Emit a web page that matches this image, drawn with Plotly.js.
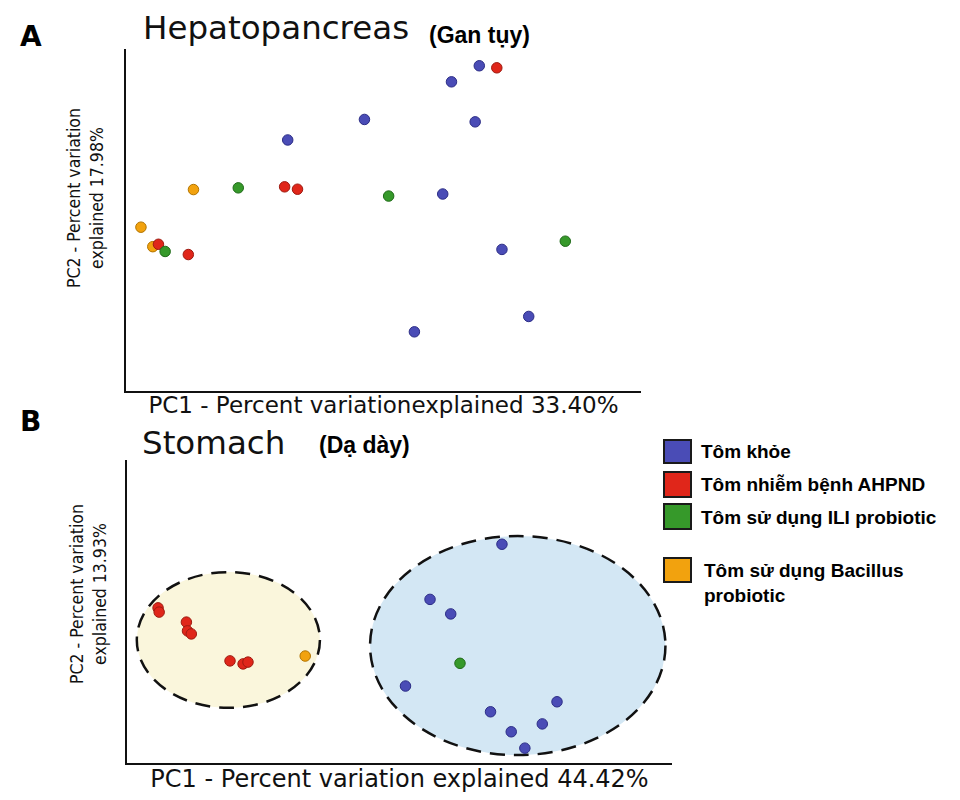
<!DOCTYPE html>
<html>
<head>
<meta charset="utf-8">
<script src="https://cdn.plot.ly/plotly-3.0.1.min.js"></script>
<style>html,body{margin:0;padding:0;background:#fff;}#chart{width:960px;height:800px;}</style>
</head>
<body>
<div id="chart"></div>
<script>
// ---- data (PC scores, arbitrary units 0-100) ----
const groupNames = ['Tôm khỏe', 'Tôm nhiễm bệnh AHPND', 'Tôm sử dụng ILI probiotic', 'Tôm sử dụng Bacillus probiotic'];
const legendLabels = ['Tôm khỏe', 'Tôm nhiễm bệnh AHPND', 'Tôm sử dụng ILI probiotic', 'Tôm sử dụng Bacillus<br>probiotic'];
const groupColors = ['#4a4cb6', '#e0261a', '#36992a', '#f2a20e'];
const groupLines = ['#2c2d86', '#9e1a10', '#1f6a18', '#b27400'];

// Panel A - Hepatopancreas
const hepHealthyX = [68.6, 63.2, 46.3, 67.8, 31.4, 61.5, 73.0, 56.0, 78.2];
const hepHealthyY = [95.1, 90.4, 79.4, 78.7, 73.4, 57.6, 41.4, 17.3, 21.8];
const hepAhpndX = [72.0, 30.8, 33.3, 6.3, 12.1];
const hepAhpndY = [94.5, 59.7, 59.0, 42.9, 39.9];
const hepIliX = [21.8, 51.0, 85.3, 7.6];
const hepIliY = [59.4, 57.0, 43.8, 40.8];
const hepBacX = [13.1, 2.9, 5.2];
const hepBacY = [58.9, 47.9, 42.2];

// Panel B - Stomach
const stoHealthyX = [68.8, 55.6, 59.4, 51.1, 66.7, 78.9, 76.2, 70.5, 73.0];
const stoHealthyY = [72.2, 54.0, 49.2, 25.4, 16.9, 20.2, 12.9, 10.3, 4.9];
const stoAhpndX = [5.7, 5.9, 10.9, 11.1, 11.8, 18.9, 21.3, 22.2];
const stoAhpndY = [51.2, 49.8, 46.5, 43.6, 42.6, 33.7, 32.7, 33.3];
const stoIliX = [61.1];
const stoIliY = [32.9];
const stoBacX = [32.7];
const stoBacY = [35.3];

// group envelopes in panel B (data units)
const clusterInfected = {x0: 1.8, x1: 35.4, y0: 18.2, y1: 63.0};
const clusterHealthy = {x0: 44.6, x1: 98.8, y0: 2.6, y1: 74.9};

const axisLabels = {
  aX: 'PC1 - Percent variationexplained 33.40%',
  aY: 'PC2 - Percent variation<br>explained 17.98%',
  bX: 'PC1 - Percent variation explained 44.42%',
  bY: 'PC2 - Percent variation<br>explained 13.93%'
};

// ---- build ----
const W = 960, H = 800;
const px = v => v / W;
const py = v => 1 - v / H;

function pts(x, y, gi, xa, ya) {
  return {
    type: 'scatter', mode: 'markers', x: x, y: y, xaxis: xa, yaxis: ya,
    name: groupNames[gi], showlegend: false, hoverinfo: 'x+y+name',
    marker: {size: 10.5, color: groupColors[gi], line: {color: groupLines[gi], width: 1}}
  };
}

const data = [
  pts(hepBacX, hepBacY, 3, 'x', 'y'),
  pts(hepAhpndX, hepAhpndY, 1, 'x', 'y'),
  pts(hepIliX, hepIliY, 2, 'x', 'y'),
  pts(hepHealthyX, hepHealthyY, 0, 'x', 'y'),
  pts(stoBacX, stoBacY, 3, 'x2', 'y2'),
  pts(stoAhpndX, stoAhpndY, 1, 'x2', 'y2'),
  pts(stoIliX, stoIliY, 2, 'x2', 'y2'),
  pts(stoHealthyX, stoHealthyY, 0, 'x2', 'y2')
];

const baseAxis = {
  range: [0, 100], showline: true, linecolor: '#111', linewidth: 2,
  showgrid: false, zeroline: false, showticklabels: false, ticks: '', fixedrange: true
};
const xTitleFontA = {family: 'DejaVu Sans, Liberation Sans, sans-serif', size: 23, color: '#111'};
const xTitleFontB = {family: 'DejaVu Sans, Liberation Sans, sans-serif', size: 24, color: '#111'};

const shapes = [
  Object.assign({type: 'circle', xref: 'x2', yref: 'y2', layer: 'below',
    fillcolor: '#faf6dc', line: {color: '#111', width: 2.5, dash: '15px,9px'}}, clusterInfected),
  Object.assign({type: 'circle', xref: 'x2', yref: 'y2', layer: 'below',
    fillcolor: '#d3e7f4', line: {color: '#111', width: 2.5, dash: '15px,9px'}}, clusterHealthy)
];

// legend squares
const legendRows = [[440, 463], [472, 497], [504, 529], [558, 582]];
legendRows.forEach((r, i) => {
  shapes.push({type: 'rect', xref: 'paper', yref: 'paper', x0: px(664), x1: px(691), y0: py(r[1]), y1: py(r[0]),
    fillcolor: groupColors[i], line: {color: '#1a1a1a', width: 2}});
});

const titleFont = {family: 'DejaVu Sans, Liberation Sans, sans-serif', size: 32.5, color: '#111'};
const boldFont = {family: 'Liberation Sans, Arial, sans-serif', size: 23, color: '#000'};
const yTitleFont = {family: 'DejaVu Sans Condensed, Liberation Sans, sans-serif', size: 17.5, color: '#111'};
const legendFont = {family: 'Liberation Sans, Arial, sans-serif', size: 19, color: '#000'};

function ann(text, x, y, font, extra) {
  return Object.assign({text: text, xref: 'paper', yref: 'paper', x: px(x), y: py(y),
    xanchor: 'left', yanchor: 'middle', showarrow: false, font: font}, extra || {});
}

const annotations = [
  ann('<b>A</b>', 18, 36, {family: 'DejaVu Sans, sans-serif', size: 28, color: '#000'}),
  ann('<b>B</b>', 18, 421, {family: 'DejaVu Sans, sans-serif', size: 28, color: '#000'}),
  ann('Hepatopancreas', 141, 28, titleFont),
  ann('<b>(Gan tụy)</b>', 427, 35, boldFont),
  ann('Stomach', 140, 443, titleFont),
  ann('<b>(Dạ dày)</b>', 317, 445, boldFont),
  ann(axisLabels.aY, 85, 198, yTitleFont, {textangle: -90, xanchor: 'center'}),
  ann(axisLabels.bY, 88, 594, yTitleFont, {textangle: -90, xanchor: 'center'}),
  ann('<b>' + legendLabels[0] + '</b>', 699, 452, legendFont),
  ann('<b>' + legendLabels[1] + '</b>', 699, 484, legendFont),
  ann('<b>' + legendLabels[2] + '</b>', 699, 517, legendFont),
  ann('<b>' + legendLabels[3] + '</b>', 702, 583, legendFont, {align: 'left'})
];

const layout = {
  width: W, height: H,
  margin: {l: 0, r: 0, t: 0, b: 0},
  paper_bgcolor: '#fff', plot_bgcolor: 'rgba(0,0,0,0)',
  showlegend: false,
  xaxis: Object.assign({}, baseAxis, {domain: [px(126), px(641)], anchor: 'y',
    title: {text: axisLabels.aX, font: xTitleFontA, standoff: 5}}),
  yaxis: Object.assign({}, baseAxis, {domain: [py(391), py(49)], anchor: 'x'}),
  xaxis2: Object.assign({}, baseAxis, {domain: [px(127), px(672)], anchor: 'y2',
    title: {text: axisLabels.bX, font: xTitleFontB, standoff: 6}}),
  yaxis2: Object.assign({}, baseAxis, {domain: [py(763), py(460)], anchor: 'x2'}),
  shapes: shapes,
  annotations: annotations
};

Plotly.newPlot('chart', data, layout, {displayModeBar: false, staticPlot: true});
</script>
</body>
</html>
